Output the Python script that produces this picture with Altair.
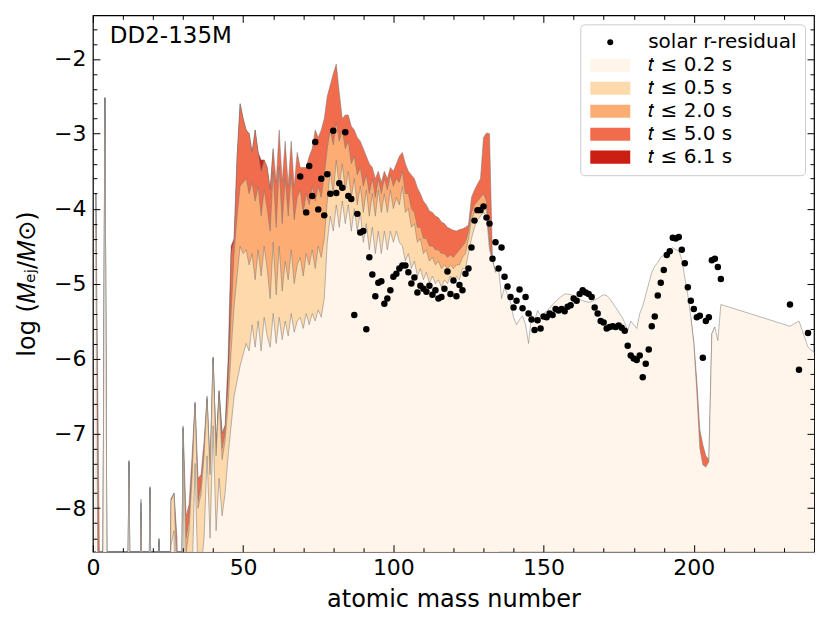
import altair as alt
import pandas as pd

W, H = 722, 537
FONT = "DejaVu Sans"

PANEL_LABEL = "DD2-135M"
X_TITLE = "atomic mass number"
Y_TITLE = "log (𝑀ₑⱼ/𝑀⊙)"
X_MAJOR = [0, 50, 100, 150, 200]
X_MINOR = [10, 20, 30, 40, 60, 70, 80, 90, 110, 120, 130, 140, 160, 170, 180, 190, 210, 220, 230]
Y_MAJOR = [-8, -7, -6, -5, -4, -3, -2]
Y_MINOR = [-8.4, -8.2, -7.8, -7.6, -7.4, -7.2, -6.8, -6.6, -6.4, -6.2, -5.8, -5.6, -5.4, -5.2,
           -4.8, -4.6, -4.4, -4.2, -3.8, -3.6, -3.4, -3.2, -2.8, -2.6, -2.4, -2.2, -1.8, -1.6]
BASELINE = -20

LEGEND_LABELS = ["solar r-residual", "𝑡 ≤ 0.2 s", "𝑡 ≤ 0.5 s", "𝑡 ≤ 2.0 s", "𝑡 ≤ 5.0 s", "𝑡 ≤ 6.1 s"]
COLORS = ["black", "#fff5eb", "#fdd9ab", "#fdad74", "#f16c4c", "#cb1f14"]

# mass numbers 1..135 (region where the time snapshots differ)
A_LOW = list(range(1, 136))
T02_LOW = [
    -3.8, -12, -12, -2.52, -12, -12, -12, -12, -12, -12,
    -12, -7.4, -12, -12, -12, -8.05, -12, -12, -7.75, -12,
    -12, -8.45, -12, -12, -12, -8.5, -8.3, -12, -12, -7.2,
    -12, -12, -9.0, -7.4, -9.0, -8.8, -8.4, -7.3, -8.4, -6.9,
    -8.3, -7.6, -8.1, -7.8, -7.3, -6.9, -6.5, -6.3, -6.1, -5.95,
    -5.8, -5.9, -5.55, -5.85, -5.5, -5.9, -5.45, -5.7, -5.85, -5.4,
    -5.8, -5.45, -5.75, -5.5, -5.7, -5.4, -5.65, -5.5, -5.45, -5.6,
    -5.4, -5.55, -5.4, -5.5, -5.35, -5.45, -5.2, -4.45, -4.1, -4.3,
    -3.95, -4.25, -3.9, -4.2, -3.95, -4.3, -4.0, -4.3, -4.05, -4.45,
    -4.2, -4.55, -4.25, -4.6, -4.3, -4.6, -4.3, -4.55, -4.3, -4.45,
    -4.3, -4.45, -4.5, -4.7, -4.6, -4.8, -4.7, -4.9, -4.8, -4.95,
    -4.85, -5.0, -4.9, -5.0, -4.95, -5.05, -4.95, -5.0, -4.9, -5.0,
    -4.9, -4.95, -4.8, -4.8, -4.6, -4.4, -4.25, -4.15, -4.1, -4.05,
    -4.1, -4.55, -4.7, -4.85, -4.78,
]
T05_LOW = [
    -3.8, -12, -12, -2.52, -12, -12, -12, -12, -12, -12,
    -12, -7.38, -12, -12, -12, -7.95, -12, -12, -7.73, -12,
    -12, -8.42, -12, -12, -12, -7.9, -7.8, -9.0, -12, -6.93,
    -8.6, -8.3, -7.6, -6.6, -8.0, -7.8, -7.3, -6.55, -7.55, -6.0,
    -7.3, -6.5, -7.35, -7.1, -6.6, -5.9, -5.3, -4.9, -4.5, -4.6,
    -4.55, -4.75, -4.6, -4.95, -4.55, -4.9, -4.5, -4.8, -5.2, -4.45,
    -5.15, -4.5, -5.1, -4.7, -4.95, -4.55, -5.0, -4.75, -4.65, -4.9,
    -4.6, -4.75, -4.55, -4.8, -4.5, -4.65, -4.4, -3.9, -3.5, -3.8,
    -3.35, -3.7, -3.4, -3.75, -3.5, -3.85, -3.6, -3.95, -3.7, -4.05,
    -3.75, -4.1, -3.8, -4.1, -3.75, -4.05, -3.8, -4.05, -3.75, -4.0,
    -3.85, -3.95, -3.7, -4.05, -4.0, -4.25, -4.2, -4.45, -4.4, -4.6,
    -4.55, -4.7, -4.65, -4.75, -4.7, -4.8, -4.75, -4.8, -4.75, -4.8,
    -4.75, -4.75, -4.65, -4.6, -4.4, -4.15, -4.05, -4.0, -3.98, -3.95,
    -4.0, -4.5, -4.7, -4.85, -4.78,
]
T20_LOW = [
    -3.8, -12, -12, -2.52, -12, -12, -12, -12, -12, -12,
    -12, -7.37, -12, -12, -12, -7.92, -12, -12, -7.72, -12,
    -12, -8.41, -12, -12, -12, -7.88, -7.8, -8.6, -12, -6.92,
    -8.4, -8.15, -7.5, -6.6, -7.9, -7.7, -7.25, -6.53, -7.5, -6.0,
    -7.25, -6.45, -7.2, -7.0, -6.3, -5.4, -4.6, -4.1, -3.7, -3.65,
    -3.6, -3.8, -3.65, -3.9, -3.7, -4.1, -3.75, -4.0, -4.3, -3.5,
    -4.25, -3.45, -4.2, -3.6, -4.1, -3.55, -4.15, -3.85, -3.75, -4.05,
    -3.8, -3.95, -3.7, -3.9, -3.7, -3.85, -3.55, -3.2, -2.95, -3.15,
    -2.85, -3.1, -2.95, -3.2, -3.1, -3.4, -3.3, -3.55, -3.45, -3.7,
    -3.55, -3.8, -3.6, -3.85, -3.6, -3.8, -3.6, -3.75, -3.55, -3.7,
    -3.6, -3.65, -3.5, -3.8, -3.8, -4.0, -4.05, -4.25, -4.25, -4.4,
    -4.4, -4.5, -4.5, -4.55, -4.55, -4.6, -4.6, -4.65, -4.62, -4.65,
    -4.6, -4.55, -4.5, -4.45, -4.3, -4.05, -3.95, -3.9, -3.85, -3.8,
    -3.9, -4.5, -4.7, -4.85, -4.78,
]
T50_LOW = [
    -3.8, -7.9, -12, -2.52, -12, -12, -12, -12, -12, -12,
    -12, -7.36, -12, -12, -12, -7.88, -12, -12, -7.71, -12,
    -12, -8.4, -12, -12, -12, -7.87, -7.8, -8.4, -12, -6.9,
    -8.1, -7.95, -7.3, -6.58, -7.6, -7.55, -7.1, -6.5, -7.45, -5.98,
    -7.2, -6.43, -7.0, -6.9, -6.6, -4.6, -4.4, -3.3, -2.6, -2.8,
    -2.95, -3.0, -3.25, -2.95, -3.25, -3.5, -3.35, -3.45, -3.75, -3.2,
    -3.65, -2.95, -3.65, -3.1, -3.7, -3.1, -3.7, -3.25, -3.45, -3.45,
    -3.45, -3.3, -3.2, -2.95, -3.05, -2.95, -2.8, -2.5, -2.35, -2.2,
    -2.07, -2.45, -2.8, -2.75, -2.75, -2.9, -2.95, -3.05, -3.1, -3.2,
    -3.3, -3.4, -3.45, -3.6, -3.5, -3.65, -3.5, -3.6, -3.45, -3.5,
    -3.4, -3.3, -3.25, -3.4, -3.5, -3.55, -3.6, -3.72, -3.8, -3.9,
    -3.95, -4.03, -4.05, -4.1, -4.12, -4.18, -4.2, -4.25, -4.27, -4.29,
    -4.3, -4.28, -4.27, -4.25, -4.22, -3.85, -3.75, -3.67, -3.6, -3.05,
    -2.99, -3.0, -4.69, -4.85, -4.78,
]
A_61 = list(range(40, 61))
T61 = [-5.98, -7.2, -6.43, -7.0, -6.9, -6.0, -4.5, -4.4, -3.3, -2.6, -2.8,
       -2.95, -3.0, -3.25, -2.95, -3.25, -3.35, -3.35, -3.45, -3.75, -3.2]

# heavy region, all snapshots coincide (drawn with the 0.2 s series)
A_TAIL = list(range(136, 210)) + [232, 235, 238, 240]
T02_TAIL = [
    -5.2, -5.05, -5.15, -5.25, -5.45, -5.55, -5.48, -5.43, -5.55, -5.8,
    -5.42, -5.5, -5.36, -5.43, -5.4, -5.37, -5.33, -5.28, -5.24, -5.2,
    -5.17, -5.14, -5.14, -5.15, -5.16, -5.19, -5.21, -5.23, -5.24, -5.25,
    -5.24, -5.22, -5.2, -5.17, -5.15, -5.16, -5.2, -5.26, -5.32, -5.38,
    -5.44, -5.52, -5.63, -5.5, -5.55, -5.6, -5.4, -5.3, -5.15, -5.0,
    -4.85, -4.77, -4.72, -4.65, -4.62, -4.58, -4.55, -4.52, -4.55, -4.56,
    -4.68, -4.92, -5.15, -5.45, -5.8, -6.45, -7.2, -7.42, -7.45, -7.38,
    -5.67, -5.58, -5.76, -5.28,
    -5.57, -5.5, -5.85, -5.92,
]
A_TROUGH = list(range(199, 208))
T50_TROUGH = [-5.45, -5.78, -6.3, -6.95, -7.15, -7.3, -7.35, -5.67, -5.58]

SOLAR_A = [69, 71, 72, 73, 74, 75, 76, 77, 78, 79, 80, 81, 82, 83, 84, 85, 86, 87, 88, 89,
           90, 91, 92, 93, 94, 95, 96, 97, 98, 99, 100, 101, 102, 103, 104, 105, 106, 107, 108, 109,
           110, 111, 112, 113, 114, 115, 116, 117, 118, 119, 120, 121, 122, 123, 124, 125, 126, 127, 128, 129,
           130, 131, 132, 133, 134, 135, 136, 137, 138, 139, 140, 141, 142, 143, 144, 145, 146, 147, 148, 149,
           150, 151, 152, 153, 154, 155, 156, 157, 158, 159, 160, 161, 162, 163, 164, 165, 166, 167, 168, 169,
           170, 171, 172, 173, 174, 175, 176, 177, 178, 179, 180, 181, 182, 183, 184, 185, 186, 187, 188, 189,
           190, 191, 192, 193, 194, 195, 196, 197, 198, 199, 200, 201, 202, 203, 204, 205, 206, 207, 208, 209,
           232, 235, 238]
SOLAR_V = [-3.57, -4.05, -3.43, -3.83, -3.11, -4.01, -3.60, -4.09, -3.54, -3.80, -2.96, -3.79, -3.66, -3.72, -2.98, -3.83, -3.87, -5.42, -4.07, -4.32,
           -4.30, -5.61, -4.65, -4.88, -5.17, -4.99, -4.97, -5.27, -5.20, -5.09, -4.91, -4.87, -4.80, -4.76, -4.76, -4.85, -5.00, -4.92, -5.12, -5.03,
           -5.07, -5.11, -5.03, -5.15, -5.09, -5.20, -5.18, -5.07, -4.84, -5.14, -4.96, -5.17, -5.02, -5.09, -4.87, -4.80, -4.52, -4.16, -4.02, -4.02,
           -3.97, -4.12, -4.20, -4.67, -4.45, -4.80, -4.52, -4.91, -5.04, -5.18, -5.32, -5.23, -5.08, -5.33, -5.18, -5.40, -5.48, -5.62, -5.49, -5.60,
           -5.44, -5.45, -5.40, -5.42, -5.34, -5.36, -5.34, -5.37, -5.31, -5.29, -5.20, -5.23, -5.14, -5.09, -5.12, -5.14, -5.18, -5.32, -5.40, -5.50,
           -5.52, -5.60, -5.58, -5.57, -5.58, -5.56, -5.59, -5.63, -5.83, -5.96, -6.00, -6.02, -5.96, -6.25, -6.07, -5.88, -5.57, -5.44, -5.16, -4.99,
           -4.82, -4.62, -4.57, -4.39, -4.40, -4.38, -4.55, -4.73, -5.05, -5.23, -5.34, -5.45, -5.43, -5.99, -5.50, -5.45, -4.69, -4.67, -4.78, -4.94,
           -5.28, -6.15, -5.66]

xs = alt.Scale(domain=[0, 240], nice=False, zero=False)
ys = alt.Scale(domain=[-8.58, -1.42], nice=False, zero=False)


def area_layer(df, color, detail=False):
    enc = dict(
        x=alt.X("A:Q", scale=xs, axis=None),
        y=alt.Y("v:Q", scale=ys, axis=None),
        y2=alt.datum(BASELINE),
    )
    if detail:
        enc["detail"] = alt.Detail("seg:N")
    return alt.Chart(df).mark_area(
        color=color, opacity=1, clip=True, interpolate="linear",
        line=alt.OverlayMarkDef(color="#7a7a7a", strokeWidth=0.7, strokeOpacity=0.75),
    ).encode(**enc)


df02 = pd.DataFrame({"A": A_LOW + A_TAIL, "v": T02_LOW + T02_TAIL})
df05 = pd.DataFrame({"A": A_LOW, "v": T05_LOW})
df20 = pd.DataFrame({"A": A_LOW, "v": T20_LOW})
df50 = pd.concat([
    pd.DataFrame({"A": A_LOW, "v": T50_LOW, "seg": "a"}),
    pd.DataFrame({"A": A_TROUGH, "v": T50_TROUGH, "seg": "b"}),
])
df61 = pd.DataFrame({"A": A_61, "v": T61})

RECT = "M-6.667,-2.2H6.667V2.2H-6.667Z"
SHAPES = ["circle", RECT, RECT, RECT, RECT, RECT]
leg = dict(title=None, orient="top-right", offset=9, labelFont=FONT, labelFontSize=20,
           labelColor="black", symbolSize=36, symbolStrokeWidth=0, symbolOffset=12,
           labelOffset=28, clipHeight=20, rowPadding=3, padding=8, fillColor="white",
           strokeColor="#cccccc", cornerRadius=4, symbolOpacity=1, labelLimit=400)

dfp = pd.DataFrame({"A": SOLAR_A, "v": SOLAR_V, "series": LEGEND_LABELS[0]})
points = alt.Chart(dfp).mark_point(filled=True, size=42, opacity=1, clip=True).encode(
    x=alt.X("A:Q", scale=xs, axis=None),
    y=alt.Y("v:Q", scale=ys, axis=None),
    color=alt.Color("series:N", scale=alt.Scale(domain=LEGEND_LABELS, range=COLORS), legend=alt.Legend(**leg)),
    shape=alt.Shape("series:N", scale=alt.Scale(domain=LEGEND_LABELS, range=SHAPES), legend=alt.Legend(**leg)),
)

label = alt.Chart(pd.DataFrame({"t": [PANEL_LABEL]})).mark_text(
    align="left", baseline="alphabetic", font=FONT, fontSize=23, color="black"
).encode(text="t:N", x=alt.value(17), y=alt.value(28))

helper = pd.DataFrame({"A": [0.0], "v": [-5.0]})
common = dict(labelFont=FONT, labelColor="black", titleFont=FONT, titleColor="black",
              titleFontWeight="normal", grid=False, domain=False)
main_axes = alt.Chart(helper).mark_point(opacity=0).encode(
    x=alt.X("A:Q", scale=xs, axis=alt.Axis(
        orient="bottom", values=X_MAJOR, format="d", labelFontSize=22, labelPadding=6,
        ticks=False, title=X_TITLE, titleFontSize=24, titlePadding=9, labelFlush=False,
        labelOverlap=False, **common)),
    y=alt.Y("v:Q", scale=ys, axis=alt.Axis(
        orient="left", values=Y_MAJOR, format="d", labelFontSize=22, labelPadding=7,
        ticks=False, title=Y_TITLE, titleFontSize=24, titlePadding=14, labelFlush=False,
        labelOverlap=False, **common)),
)


def tick_layer(xorient, yorient, xvals, yvals, size):
    ax = dict(labels=False, domain=False, grid=False, title=None, tickColor="black",
              tickWidth=1, tickSize=size, zindex=1)
    return alt.Chart(helper).mark_point(opacity=0).encode(
        x=alt.X("A:Q", scale=xs, axis=alt.Axis(orient=xorient, offset=-H, values=xvals, **ax)),
        y=alt.Y("v:Q", scale=ys, axis=alt.Axis(orient=yorient, offset=-W, values=yvals, **ax)),
    )


chart = alt.layer(
    area_layer(df61, COLORS[5]),
    area_layer(df50, COLORS[4], detail=True),
    area_layer(df20, COLORS[3]),
    area_layer(df05, COLORS[2]),
    area_layer(df02, COLORS[1]),
    points,
    label,
    main_axes,
    tick_layer("top", "right", X_MAJOR, Y_MAJOR, 7),
    tick_layer("top", "right", X_MINOR, Y_MINOR, 4),
    tick_layer("bottom", "left", X_MAJOR, Y_MAJOR, 7),
    tick_layer("bottom", "left", X_MINOR, Y_MINOR, 4),
).resolve_axis(x="independent", y="independent").properties(
    width=W, height=H,
    padding={"left": 85, "top": 7, "right": 8, "bottom": 70},
    autosize=alt.AutoSizeParams(type="none"),
    background="white",
).configure_view(stroke="black", strokeWidth=1.2)

chart.save("out.html", embed_options={"renderer": "svg", "actions": False})
